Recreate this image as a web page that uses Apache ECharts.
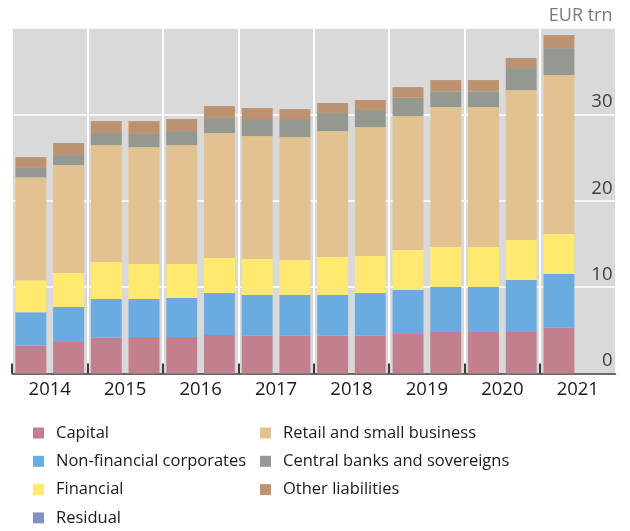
<!DOCTYPE html>
<html>
<head>
<meta charset="utf-8">
<script src="https://cdn.jsdelivr.net/npm/echarts@6/dist/echarts.min.js"></script>
<style>html,body{margin:0;padding:0;background:#fff}#c{width:630px;height:531px}</style>
</head>
<body>
<div id="c"></div>
<script>
const halfYears = ['2014H1','2014H2','2015H1','2015H2','2016H1','2016H2','2017H1','2017H2','2018H1','2018H2','2019H1','2019H2','2020H1','2020H2','2021H1','2021H2'];
const years = ['2014','2015','2016','2017','2018','2019','2020','2021'];
const tickYears = ['2014','2015','2016','2017','2018','2019','2020'];
const yTicks = [0, 10, 20, 30, 40];
const unitLabel = 'EUR trn';

const capital   = [3.2, 3.65, 4.14, 4.22, 4.22, 4.46, 4.38, 4.38, 4.38, 4.38, 4.57, 4.8, 4.8, 4.8, 5.3, null];
const nonFin    = [3.9, 4.05, 4.48, 4.4, 4.52, 4.86, 4.71, 4.71, 4.71, 4.94, 5.09, 5.21, 5.21, 6.02, 6.22, null];
const financial = [3.7, 3.93, 4.29, 4.05, 3.93, 4.05, 4.16, 4.05, 4.39, 4.28, 4.63, 4.63, 4.63, 4.63, 4.63, null];
const residual  = [0, 0, 0, 0, 0, 0, 0, 0, 0, 0, 0, 0, 0, 0, 0, null];
const retail    = [11.9, 12.5, 13.53, 13.54, 13.77, 14.47, 14.24, 14.23, 14.59, 14.93, 15.51, 16.21, 16.21, 17.36, 18.4, null];
const central   = [1.1, 1.16, 1.4, 1.51, 1.63, 1.73, 1.97, 2.09, 2.08, 1.97, 2.12, 1.81, 1.81, 2.55, 3.12, null];
const other     = [1.25, 1.39, 1.38, 1.5, 1.39, 1.39, 1.27, 1.15, 1.16, 1.16, 1.24, 1.31, 1.31, 1.16, 1.51, null];

const legendCol1 = ['Capital', 'Non-financial corporates', 'Financial', 'Residual'];
const legendCol2 = ['Retail and small business', 'Central banks and sovereigns', 'Other liabilities'];

const FONT = 'Open Sans';
const GL = 12, GR = 14.5, GT = 28, GB = 157.5;
const W = 630 - GL - GR;

function bar(name, data, color) {
  return { name, type: 'bar', stack: 'total', data, xAxisIndex: 0, yAxisIndex: 0,
    barWidth: '82%', itemStyle: { color }, emphasis: { disabled: true } };
}
function legend(left, data) {
  return { orient: 'vertical', left, top: 418, height: 140, itemWidth: 11, itemHeight: 11, itemGap: 8.3,
    icon: 'rect', selectedMode: false, data,
    textStyle: { fontSize: 16.5, fontFamily: FONT, color: '#1a1a1a', lineHeight: 20, padding: [0, 0, 0, 7] } };
}

const chart = echarts.init(document.getElementById('c'), null, { renderer: 'canvas' });
chart.setOption({
  animation: false,
  textStyle: { fontFamily: FONT },
  grid: [
    { left: GL, right: GR, top: GT, bottom: GB, show: true, backgroundColor: '#d9d9d9', borderWidth: 0 },
    { left: GL, width: W * 7 / 8, top: GT, bottom: GB, show: false }
  ],
  xAxis: [
    { type: 'category', gridIndex: 0, data: halfYears, axisLine: { show: false }, axisTick: { show: false },
      axisLabel: { show: false }, splitLine: { show: false } },
    { type: 'category', gridIndex: 0, data: years, position: 'bottom',
      axisLine: { show: true, lineStyle: { color: '#3a3a3a', width: 1.5 } },
      axisTick: { show: false },
      axisLabel: { show: true, color: '#1a1a1a', fontSize: 18.5, fontFamily: FONT, margin: 7 },
      splitLine: { show: true, lineStyle: { color: '#ffffff', width: 2 } } },
    { type: 'category', gridIndex: 1, data: tickYears, position: 'bottom',
      axisLine: { show: false },
      axisTick: { show: true, inside: true, length: 10, lineStyle: { color: '#3a3a3a', width: 2 } },
      axisLabel: { show: false }, splitLine: { show: false } }
  ],
  yAxis: [
    { type: 'value', gridIndex: 0, min: yTicks[0], max: yTicks[yTicks.length - 1], interval: 10, position: 'right',
      axisLine: { show: false }, axisTick: { show: false },
      splitLine: { show: true, lineStyle: { color: '#ffffff', width: 1.5 } },
      axisLabel: { inside: true, margin: 3, fontSize: 18.5, fontFamily: FONT, color: '#404040',
        verticalAlign: 'bottom', lineHeight: 25, align: 'right',
        formatter: v => v === 40 ? '{u|' + unitLabel + '}' : String(v),
        rich: { u: { color: '#7a7a7a', fontSize: 18, fontFamily: FONT, lineHeight: 25 } } } },
    { type: 'value', gridIndex: 1, min: 0, max: 40, show: false }
  ],
  legend: [ legend(28, legendCol1), legend(255, legendCol2) ],
  series: [
    bar('Capital', capital, '#c27f8e'),
    bar('Non-financial corporates', nonFin, '#6aacdf'),
    bar('Financial', financial, '#ffe970'),
    bar('Residual', residual, '#8591c6'),
    bar('Retail and small business', retail, '#e1c290'),
    bar('Central banks and sovereigns', central, '#939891'),
    bar('Other liabilities', other, '#bd9270')
  ]
});
</script>
</body>
</html>
